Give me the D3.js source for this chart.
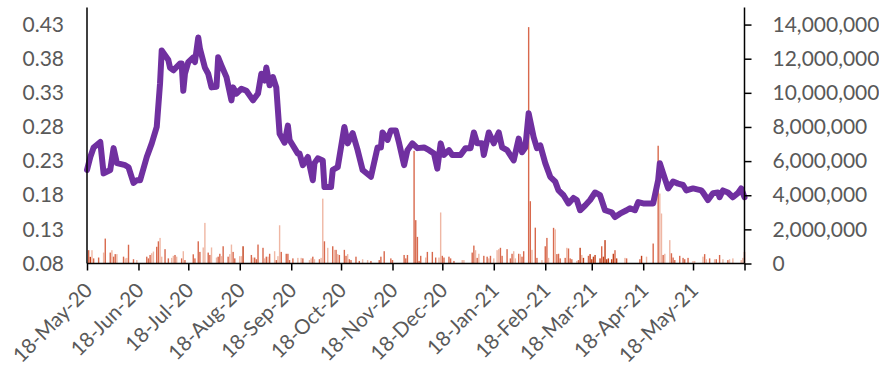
<!DOCTYPE html>
<html lang="en">
<head>
<meta charset="UTF-8">
<title>Rate and volume</title>
<script src="https://d3js.org/d3.v7.min.js"></script>
<style>
  body { margin: 0; background: #fff; }
  .tick text { font-family: Lato, "Open Sans", sans-serif; font-size: 21px; fill: #595959; }
  .xaxis .tick text { font-size: 20.5px; }
</style>
</head>
<body>
<script>
// left axis series (0.08 - 0.43)
var rateSeries = [
  ["2020-05-18",0.217],["2020-05-20",0.236],["2020-05-22",0.25],["2020-05-26",0.258],["2020-05-28",0.212],
  ["2020-06-01",0.217],["2020-06-03",0.249],["2020-06-05",0.227],["2020-06-10",0.224],["2020-06-12",0.221],
  ["2020-06-15",0.198],["2020-06-17",0.202],["2020-06-19",0.202],["2020-06-23",0.236],["2020-06-26",0.256],
  ["2020-06-29",0.28],["2020-07-01",0.344],["2020-07-02",0.392],["2020-07-06",0.378],["2020-07-07",0.367],
  ["2020-07-09",0.363],["2020-07-13",0.373],["2020-07-14",0.373],["2020-07-15",0.333],["2020-07-16",0.358],
  ["2020-07-18",0.375],["2020-07-21",0.382],["2020-07-22",0.375],["2020-07-24",0.411],["2020-07-25",0.395],
  ["2020-07-28",0.367],["2020-07-30",0.358],["2020-08-01",0.338],["2020-08-04",0.339],["2020-08-05",0.382],
  ["2020-08-07",0.37],["2020-08-10",0.353],["2020-08-13",0.319],["2020-08-14",0.338],["2020-08-16",0.329],
  ["2020-08-19",0.336],["2020-08-22",0.333],["2020-08-26",0.319],["2020-08-29",0.329],["2020-08-31",0.358],
  ["2020-09-02",0.348],["2020-09-03",0.367],["2020-09-05",0.341],["2020-09-07",0.353],["2020-09-09",0.338],
  ["2020-09-11",0.27],["2020-09-14",0.257],["2020-09-16",0.282],["2020-09-17",0.261],["2020-09-22",0.241],
  ["2020-09-23",0.241],["2020-09-25",0.224],["2020-09-28",0.236],["2020-10-01",0.202],["2020-10-02",0.227],
  ["2020-10-04",0.234],["2020-10-07",0.231],["2020-10-08",0.192],["2020-10-12",0.192],["2020-10-13",0.217],
  ["2020-10-16",0.221],["2020-10-20",0.28],["2020-10-22",0.256],["2020-10-25",0.271],["2020-10-28",0.246],
  ["2020-10-31",0.217],["2020-11-05",0.207],["2020-11-09",0.25],["2020-11-11",0.25],["2020-11-12",0.272],
  ["2020-11-15",0.261],["2020-11-17",0.275],["2020-11-20",0.275],["2020-11-22",0.256],["2020-11-25",0.224],
  ["2020-11-27",0.246],["2020-11-30",0.256],["2020-12-03",0.249],["2020-12-07",0.25],["2020-12-10",0.246],
  ["2020-12-13",0.241],["2020-12-15",0.219],["2020-12-17",0.256],["2020-12-19",0.239],["2020-12-22",0.246],
  ["2020-12-24",0.239],["2020-12-29",0.239],["2021-01-01",0.249],["2021-01-04",0.249],["2021-01-06",0.272],
  ["2021-01-08",0.256],["2021-01-11",0.256],["2021-01-12",0.239],["2021-01-15",0.272],["2021-01-18",0.256],
  ["2021-01-21",0.272],["2021-01-23",0.25],["2021-01-26",0.246],["2021-01-30",0.231],["2021-02-02",0.263],
  ["2021-02-04",0.243],["2021-02-06",0.25],["2021-02-08",0.3],["2021-02-11",0.265],["2021-02-13",0.249],
  ["2021-02-15",0.253],["2021-02-18",0.227],["2021-02-21",0.207],["2021-02-24",0.2],["2021-02-26",0.187],
  ["2021-03-01",0.18],["2021-03-04",0.168],["2021-03-07",0.176],["2021-03-09",0.173],["2021-03-11",0.158],
  ["2021-03-14",0.165],["2021-03-17",0.173],["2021-03-20",0.184],["2021-03-23",0.18],["2021-03-26",0.158],
  ["2021-03-30",0.155],["2021-04-01",0.148],["2021-04-04",0.153],["2021-04-08",0.158],["2021-04-10",0.161],
  ["2021-04-13",0.158],["2021-04-15",0.17],["2021-04-18",0.168],["2021-04-24",0.168],["2021-04-27",0.202],
  ["2021-04-28",0.227],["2021-04-30",0.212],["2021-05-03",0.19],["2021-05-06",0.2],["2021-05-09",0.197],
  ["2021-05-12",0.195],["2021-05-14",0.187],["2021-05-18",0.19],["2021-05-23",0.187],["2021-05-24",0.184],
  ["2021-05-27",0.173],["2021-05-30",0.183],["2021-06-02",0.184],["2021-06-03",0.177],["2021-06-05",0.187],
  ["2021-06-08",0.184],["2021-06-11",0.177],["2021-06-14",0.183],["2021-06-16",0.19],["2021-06-18",0.177]
];

// right axis bars: date, volume in millions, shade (l light, m mid, d dark)
var volumeSeries = [
  ["2020-05-19",0.78,"m"],["2020-05-20",0.39,"d"],["2020-05-21",0.78,"l"],["2020-05-22",0.3,"m"],["2020-05-25",0.35,"m"],
  ["2020-05-28",0.64,"l"],["2020-05-29",1.46,"m"],["2020-06-01",0.64,"m"],["2020-06-02",0.78,"l"],["2020-06-03",0.4,"m"],
  ["2020-06-04",0.55,"m"],["2020-06-05",0.55,"l"],["2020-06-09",0.4,"m"],["2020-06-10",0.3,"l"],["2020-06-11",0.33,"l"],
  ["2020-06-12",1.1,"m"],["2020-06-15",0.25,"m"],["2020-06-17",0.2,"l"],["2020-06-23",0.4,"m"],["2020-06-24",0.3,"m"],
  ["2020-06-25",0.5,"m"],["2020-06-26",0.6,"l"],["2020-06-27",0.7,"l"],["2020-06-29",0.98,"m"],["2020-06-30",1.3,"m"],
  ["2020-07-01",1.5,"l"],["2020-07-02",0.4,"l"],["2020-07-04",0.84,"m"],["2020-07-06",0.3,"m"],["2020-07-08",0.33,"l"],
  ["2020-07-09",0.45,"l"],["2020-07-10",0.5,"m"],["2020-07-11",0.4,"l"],["2020-07-14",0.3,"m"],["2020-07-15",0.72,"l"],
  ["2020-07-16",0.2,"m"],["2020-07-21",0.54,"m"],["2020-07-22",0.3,"m"],["2020-07-24",1.3,"m"],["2020-07-25",0.68,"m"],
  ["2020-07-27",0.94,"l"],["2020-07-28",2.38,"l"],["2020-07-30",0.64,"m"],["2020-07-31",0.5,"m"],["2020-08-01",0.94,"l"],
  ["2020-08-04",0.35,"l"],["2020-08-05",0.4,"m"],["2020-08-06",0.57,"m"],["2020-08-07",0.43,"l"],["2020-08-08",1.01,"m"],
  ["2020-08-11",0.4,"m"],["2020-08-12",0.55,"l"],["2020-08-13",1.11,"l"],["2020-08-14",0.68,"m"],["2020-08-15",0.3,"m"],
  ["2020-08-18",0.43,"l"],["2020-08-19",0.43,"l"],["2020-08-20",1.01,"d"],["2020-08-25",0.5,"m"],["2020-08-26",0.35,"l"],
  ["2020-08-27",0.35,"m"],["2020-08-28",0.25,"m"],["2020-08-29",1.11,"m"],["2020-09-01",0.92,"m"],["2020-09-02",0.3,"l"],
  ["2020-09-03",0.4,"m"],["2020-09-04",0.4,"l"],["2020-09-05",0.57,"m"],["2020-09-08",0.72,"l"],["2020-09-09",0.2,"m"],
  ["2020-09-10",0.43,"l"],["2020-09-11",2.24,"l"],["2020-09-12",0.68,"m"],["2020-09-15",0.57,"m"],["2020-09-16",0.57,"m"],
  ["2020-09-17",0.2,"m"],["2020-09-19",0.3,"m"],["2020-09-22",0.33,"l"],["2020-09-24",0.33,"l"],["2020-09-25",0.3,"m"],
  ["2020-09-29",0.2,"l"],["2020-09-30",0.3,"l"],["2020-10-01",0.4,"m"],["2020-10-02",0.25,"l"],["2020-10-05",0.25,"m"],
  ["2020-10-06",0.33,"l"],["2020-10-07",3.8,"l"],["2020-10-08",1.3,"m"],["2020-10-10",0.92,"l"],["2020-10-13",1.01,"m"],
  ["2020-10-14",0.8,"l"],["2020-10-15",0.8,"m"],["2020-10-16",0.55,"l"],["2020-10-17",0.5,"m"],["2020-10-20",0.8,"m"],
  ["2020-10-21",0.45,"m"],["2020-10-22",0.55,"l"],["2020-10-23",0.25,"m"],["2020-10-24",0.2,"m"],["2020-10-27",0.4,"m"],
  ["2020-10-29",0.15,"m"],["2020-10-31",0.25,"l"],["2020-11-03",0.2,"l"],["2020-11-05",0.15,"m"],["2020-11-10",0.2,"m"],
  ["2020-11-11",0.4,"m"],["2020-11-13",0.72,"m"],["2020-11-17",0.3,"m"],["2020-11-18",0.2,"m"],["2020-11-25",0.5,"m"],
  ["2020-11-26",0.3,"m"],["2020-11-27",0.5,"m"],["2020-12-01",6.6,"m"],["2020-12-02",2.54,"m"],["2020-12-03",1.56,"m"],
  ["2020-12-04",0.15,"m"],["2020-12-05",0.45,"m"],["2020-12-08",0.35,"l"],["2020-12-09",0.68,"m"],["2020-12-12",0.68,"m"],
  ["2020-12-14",0.35,"m"],["2020-12-16",0.35,"l"],["2020-12-17",2.99,"l"],["2020-12-18",0.45,"m"],["2020-12-19",0.35,"m"],
  ["2020-12-22",0.4,"m"],["2020-12-23",0.3,"m"],["2020-12-25",0.15,"m"],["2020-12-30",0.2,"l"],["2020-12-31",0.2,"l"],
  ["2021-01-05",0.64,"m"],["2021-01-06",1.05,"m"],["2021-01-07",0.78,"l"],["2021-01-08",0.33,"m"],["2021-01-09",0.57,"l"],
  ["2021-01-12",0.45,"m"],["2021-01-14",0.4,"m"],["2021-01-15",0.3,"l"],["2021-01-16",0.45,"m"],["2021-01-18",0.3,"l"],
  ["2021-01-20",0.78,"l"],["2021-01-21",0.84,"l"],["2021-01-22",0.92,"m"],["2021-01-23",0.45,"m"],["2021-01-26",0.84,"m"],
  ["2021-01-28",0.3,"m"],["2021-01-29",0.57,"m"],["2021-01-30",0.72,"l"],["2021-01-31",0.3,"l"],["2021-02-02",0.57,"m"],
  ["2021-02-03",0.55,"l"],["2021-02-04",0.4,"m"],["2021-02-05",0.72,"m"],["2021-02-08",13.85,"m"],["2021-02-09",3.65,"m"],
  ["2021-02-10",0.8,"l"],["2021-02-12",2.1,"m"],["2021-02-13",0.33,"m"],["2021-02-16",0.2,"l"],["2021-02-18",1.01,"m"],
  ["2021-02-19",1.5,"m"],["2021-02-20",0.33,"l"],["2021-02-23",2.09,"m"],["2021-02-24",2.0,"l"],["2021-02-25",0.55,"m"],
  ["2021-02-26",0.57,"m"],["2021-02-27",0.3,"m"],["2021-03-02",0.33,"m"],["2021-03-03",0.92,"l"],["2021-03-04",0.88,"m"],
  ["2021-03-05",0.3,"m"],["2021-03-06",0.25,"m"],["2021-03-09",0.15,"l"],["2021-03-10",0.2,"m"],["2021-03-11",0.92,"d"],
  ["2021-03-12",0.5,"l"],["2021-03-13",0.33,"d"],["2021-03-16",0.45,"m"],["2021-03-17",0.55,"d"],["2021-03-18",0.25,"d"],
  ["2021-03-19",0.4,"d"],["2021-03-20",0.5,"d"],["2021-03-23",0.3,"d"],["2021-03-24",1.01,"m"],["2021-03-25",0.4,"d"],
  ["2021-03-26",1.37,"d"],["2021-03-27",0.25,"d"],["2021-03-28",0.3,"d"],["2021-03-30",0.25,"d"],["2021-03-31",0.57,"d"],
  ["2021-04-01",0.78,"m"],["2021-04-02",0.3,"d"],["2021-04-07",0.33,"l"],["2021-04-08",0.3,"m"],["2021-04-16",0.25,"m"],
  ["2021-04-17",0.45,"d"],["2021-04-20",0.4,"l"],["2021-04-24",1.17,"m"],["2021-04-27",6.9,"m"],["2021-04-28",4.1,"l"],
  ["2021-04-29",2.93,"l"],["2021-04-30",0.5,"m"],["2021-05-01",0.57,"l"],["2021-05-04",1.37,"l"],["2021-05-05",0.6,"m"],
  ["2021-05-06",0.35,"m"],["2021-05-07",0.2,"m"],["2021-05-10",0.45,"m"],["2021-05-12",0.33,"m"],["2021-05-13",0.25,"m"],
  ["2021-05-15",0.33,"m"],["2021-05-18",0.15,"l"],["2021-05-19",0.15,"l"],["2021-05-24",0.4,"l"],["2021-05-25",0.55,"m"],
  ["2021-05-26",0.25,"l"],["2021-05-28",0.3,"m"],["2021-05-31",0.25,"l"],["2021-06-01",0.25,"m"],["2021-06-03",0.5,"m"],
  ["2021-06-05",0.25,"l"],["2021-06-08",0.2,"m"],["2021-06-09",0.25,"l"],["2021-06-11",0.3,"l"],["2021-06-16",0.2,"l"],
  ["2021-06-17",0.33,"l"],["2021-06-18",0.68,"m"]
];

var leftTicks = [0.08, 0.13, 0.18, 0.23, 0.28, 0.33, 0.38, 0.43];
var rightTicks = [0, 2, 4, 6, 8, 10, 12, 14]; // millions
var monthTicks = ["2020-05-18","2020-06-18","2020-07-18","2020-08-18","2020-09-18","2020-10-18","2020-11-18",
                  "2020-12-18","2021-01-18","2021-02-18","2021-03-18","2021-04-18","2021-05-18"];
var axisEnd = "2021-06-18";

var shade = {l: "#efb7a4", m: "#d8694d", d: "#c2401a"};

var width = 879, height = 366;
var plotL = 87, plotR = 744.5, plotT = 7.5, plotB = 263.5;
var parse = d3.timeParse("%Y-%m-%d");

var svg = d3.select("body").append("svg")
            .attr("width", width).attr("height", height);

var xScale = d3.scaleTime()
               .domain([parse(monthTicks[0]), parse(axisEnd)])
               .range([plotL, plotR]);
var yLeft = d3.scaleLinear().domain([0.08, 0.455]).range([plotB, plotT]);
var yRight = d3.scaleLinear().domain([0, 15]).range([plotB, plotT]);

// bars
svg.append("g").selectAll("rect")
   .data(volumeSeries)
   .enter().append("rect")
   .attr("x", function(d){ return xScale(parse(d[0])) - 0.7; })
   .attr("width", 1.4)
   .attr("y", function(d){ return yRight(d[1]); })
   .attr("height", function(d){ return plotB - yRight(d[1]); })
   .attr("fill", function(d){ return shade[d[2]]; });

// line
var line = d3.line()
             .x(function(d){ return xScale(parse(d[0])); })
             .y(function(d){ return yLeft(d[1]); });
svg.append("path").attr("d", line(rateSeries))
   .attr("fill", "none").attr("stroke", "#7030a0")
   .attr("stroke-width", 6).attr("stroke-linejoin", "round").attr("stroke-linecap", "round");

// axes
var leftAxis = d3.axisLeft(yLeft).tickValues(leftTicks).tickSize(0).tickPadding(23)
                 .tickFormat(d3.format(".2f"));
var gl = svg.append("g").attr("transform", "translate(" + plotL + ",0)").call(leftAxis);
gl.select(".domain").remove();

var rightAxis = d3.axisRight(yRight).tickValues(rightTicks).tickSize(7).tickPadding(21)
                  .tickFormat(function(d){ return d3.format(",")(d * 1000000); });
var gr = svg.append("g").attr("transform", "translate(" + plotR + ",0)").call(rightAxis);
gr.select(".domain").remove();
gr.selectAll(".tick line").attr("stroke", "#000").attr("stroke-width", 1.5);

var xTicks = monthTicks.concat([axisEnd]).map(parse);
var bottomAxis = d3.axisBottom(xScale).tickValues(xTicks).tickSize(7)
                   .tickFormat(function(d){ return d.getTime() === parse(axisEnd).getTime() ? "" : d3.timeFormat("%d-%b-%y")(d); });
var gb = svg.append("g").attr("class", "xaxis").attr("transform", "translate(0," + plotB + ")").call(bottomAxis);
gb.select(".domain").remove();
gb.selectAll(".tick line").attr("stroke", "#000").attr("stroke-width", 1.5);
gb.selectAll(".tick text")
  .attr("text-anchor", "end")
  .attr("x", 0).attr("y", 0).attr("dy", "0.35em")
  .attr("transform", "translate(1,23) rotate(-45)");

// frame lines
svg.append("line").attr("x1", plotL).attr("x2", plotL).attr("y1", plotT).attr("y2", plotB)
   .attr("stroke", "#000").attr("stroke-width", 1.5);
svg.append("line").attr("x1", plotR).attr("x2", plotR).attr("y1", plotT).attr("y2", plotB)
   .attr("stroke", "#000").attr("stroke-width", 1.5);
svg.append("line").attr("x1", plotL).attr("x2", plotR).attr("y1", plotB).attr("y2", plotB)
   .attr("stroke", "#000").attr("stroke-width", 1.5);
</script>
</body>
</html>
